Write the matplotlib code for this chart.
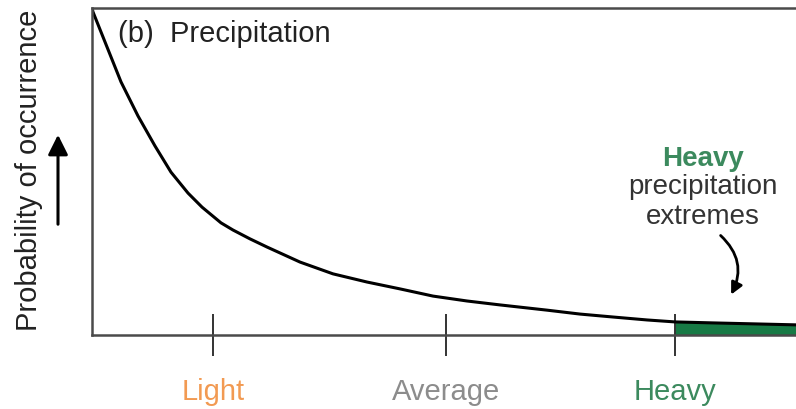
#!/usr/bin/env python3
"""
Schematic of the probability of occurrence of daily precipitation,
with the heavy-precipitation tail shaded.
"""

import matplotlib
matplotlib.use("Agg")
import matplotlib.pyplot as plt
from matplotlib.patches import FancyArrowPatch

# curve (intensity 0..100, probability 0..100)
intensity = [0, 0.14, 1.85, 4.12, 6.53, 8.95, 11.22, 13.64, 15.63, 18.32,
             20.03, 22.44, 24.86, 29.55, 34.23, 39.06, 43.75, 48.44, 53.27,
             57.95, 64.63, 69.32, 74.01, 78.84, 82.81, 88.21, 100]
probability = [100, 98.8, 89.6, 77.4, 67.0, 57.8, 49.8, 43.4, 39.1, 34.3,
               32.1, 29.4, 26.9, 22.3, 18.7, 16.2, 14.1, 11.9, 10.4,
               9.2, 7.6, 6.4, 5.5, 4.6, 4.0, 3.7, 3.1]

tick_pos = [17.2, 50.3, 82.8]
tick_labels = ["Light", "Average", "Heavy"]
tick_colors = ["#f29a52", "#8c8c8c", "#3c8a5e"]
heavy_start = 82.8

plt.rcParams["font.family"] = ["Liberation Sans", "DejaVu Sans"]

fig = plt.figure(figsize=(7.96, 4.10), dpi=100)
ax = fig.add_axes([92 / 796, 1 - 336 / 410, 1 - 92 / 796, (336 - 9) / 410])

ax.plot(intensity, probability, color="black", lw=2.2,
        solid_capstyle="round", solid_joinstyle="round")

# shade the heavy tail
tail_x = [x for x in intensity if x >= heavy_start]
tail_y = [y for x, y in zip(intensity, probability) if x >= heavy_start]
ax.fill_between(tail_x, tail_y, 0, color="#177a45", lw=0)

ax.set_xlim(0, 100)
ax.set_ylim(0, 100)
ax.set_yticks([])
ax.set_xticks(tick_pos)
ax.set_xticklabels(tick_labels, fontsize=21)
for lbl, c in zip(ax.get_xticklabels(), tick_colors):
    lbl.set_color(c)
ax.tick_params(axis="x", direction="inout", length=30, width=1.4,
               color="#333333", pad=15)

for side in ["left", "top", "bottom"]:
    ax.spines[side].set_linewidth(1.8)
    ax.spines[side].set_color("#4a4a4a")
ax.spines["right"].set_visible(False)

ax.text(0.037, 0.925, "(b)  Precipitation", transform=ax.transAxes,
        fontsize=21, color="#222222", va="center")

# annotation of heavy extremes
ax.text(0.868, 0.54, "Heavy", transform=ax.transAxes, fontsize=20,
        fontweight="bold", color="#3c8a5e", ha="center", va="center")
ax.text(0.868, 0.455, "precipitation", transform=ax.transAxes, fontsize=20,
        color="#333333", ha="center", va="center")
ax.text(0.868, 0.363, "extremes", transform=ax.transAxes, fontsize=20,
        color="#333333", ha="center", va="center")
ax.annotate("", xy=(0.906, 0.116), xytext=(0.89, 0.31),
            xycoords="axes fraction",
            arrowprops=dict(arrowstyle="-|>,head_length=0.7,head_width=0.35",
                            connectionstyle="arc3,rad=-0.4",
                            color="black", lw=2))

# y label with upward arrow
fig.text(0.036, 0.585, "Probability of occurrence", rotation=90,
         fontsize=21, color="#222222", ha="center", va="center")
fig.patches.append(FancyArrowPatch(
    (58 / 796, 1 - 228 / 410), (58 / 796, 1 - 133 / 410),
    transform=fig.transFigure, arrowstyle="-|>,head_length=0.6,head_width=0.3",
    color="black", lw=2.2, mutation_scale=20))

fig.savefig("out.png", dpi=100)
